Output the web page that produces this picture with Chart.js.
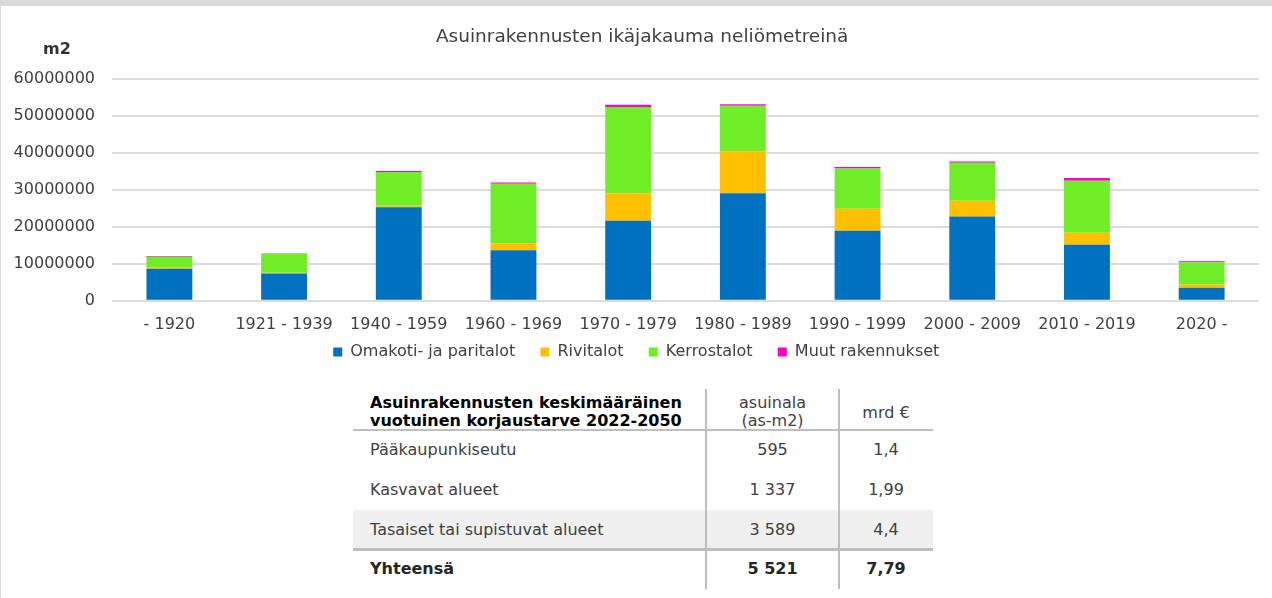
<!DOCTYPE html>
<html>
<head>
<meta charset="utf-8">
<script src="https://cdn.jsdelivr.net/npm/chart.js@4.4.1/dist/chart.umd.min.js"></script>
<style>
  html, body { margin: 0; padding: 0; background: #ffffff; }
  body { width: 1272px; height: 598px; position: relative; overflow: hidden; font-family: "DejaVu Sans", Verdana, sans-serif; }
  #topband { position: absolute; left: 0; top: 0; width: 1272px; height: 6px; background: #d9d9d9; }
  #leftline { position: absolute; left: 0; top: 6px; width: 1px; height: 592px; background: #d9d9d9; }
  #chartwrap { position: absolute; left: 0; top: 0; width: 1272px; height: 370px; }
  #unit { position: absolute; left: 37px; top: 39px; width: 40px; text-align: center; font-weight: bold; font-size: 16px; line-height: 20px; color: #333333; }
  .cell { position: absolute; display: flex; align-items: center; font-size: 16px; color: #404040; box-sizing: border-box; line-height: 18px; }
  .line { position: absolute; background: #bfbfbf; }
</style>
</head>
<body>
<div id="topband"></div>
<div id="leftline"></div>
<div id="chartwrap"><canvas id="c" width="1272" height="370"></canvas></div>
<div id="unit">m2</div>
<div id="table"></div>
<script>
// ---- chart data ----
const categories = ['- 1920', '1921 - 1939', '1940 - 1959', '1960 - 1969', '1970 - 1979', '1980 - 1989', '1990 - 1999', '2000 - 2009', '2010 - 2019', '2020 -'];
const omakotiJaParitalot = [8700000, 7400000, 25300000, 13700000, 21700000, 29100000, 19000000, 22800000, 15200000, 3500000];
const rivitalot = [400000, 200000, 450000, 1900000, 7400000, 11400000, 5900000, 4300000, 3200000, 900000];
const kerrostalot = [2800000, 5200000, 9100000, 16100000, 23400000, 12300000, 10900000, 10300000, 14100000, 6050000];
const muutRakennukset = [200000, 100000, 300000, 350000, 550000, 450000, 400000, 350000, 750000, 250000];
const seriesNames = ['Omakoti- ja paritalot', 'Rivitalot', 'Kerrostalot', 'Muut rakennukset'];
const yTicks = [0, 10000000, 20000000, 30000000, 40000000, 50000000, 60000000];
const chartTitle = 'Asuinrakennusten ikäjakauma neliömetreinä';
const unitLabel = 'm2';

// ---- table data ----
const tableHeaders = ['Asuinrakennusten keskimääräinen\nvuotuinen korjaustarve 2022-2050', 'asuinala\n(as-m2)', 'mrd €'];
const tableRegions = ['Pääkaupunkiseutu', 'Kasvavat alueet', 'Tasaiset tai supistuvat alueet', 'Yhteensä'];
const tableAsuinala = ['595', '1 337', '3 589', '5 521'];
const tableMrd = ['1,4', '1,99', '4,4', '7,79'];

document.getElementById('unit').textContent = unitLabel;

const colors = ['#0070C0', '#FFC000', '#6FEE27', '#FF00CC'];
const seriesData = [omakotiJaParitalot, rivitalot, kerrostalot, muutRakennukset];
const FONT = "'DejaVu Sans', Verdana, sans-serif";
const X_PAD = 14, Y_PAD = 17;

new Chart(document.getElementById('c'), {
  type: 'bar',
  data: {
    labels: categories,
    datasets: seriesData.map((d, i) => ({
      label: seriesNames[i],
      data: d,
      backgroundColor: colors[i],
      borderWidth: 0,
      stack: 's',
      barPercentage: 0.4,
      categoryPercentage: 1.0
    }))
  },
  options: {
    responsive: false,
    devicePixelRatio: 1,
    animation: false,
    layout: { padding: { left: 13.6, right: 13, top: 0, bottom: 0 } },
    plugins: {
      title: {
        display: true,
        text: '  ' + chartTitle,
        color: '#404040',
        font: { family: FONT, size: 18.5, weight: 'normal' },
        padding: { top: 26, bottom: 31 }
      },
      legend: {
        position: 'bottom',
        labels: {
          boxWidth: 9,
          boxHeight: 9,
          color: '#404040',
          padding: 10,
          font: { family: FONT, size: 16 },
          generateLabels: (chart) => {
            const items = Chart.defaults.plugins.legend.labels.generateLabels(chart);
            return items.map((it, i) => Object.assign(it, { text: i < items.length - 1 ? it.text + '   ' : it.text }));
          }
        }
      },
      tooltip: { enabled: false }
    },
    scales: {
      x: {
        stacked: true,
        grid: { display: false, drawTicks: false },
        border: { display: false },
        ticks: { color: '#404040', font: { family: FONT, size: 16 }, padding: X_PAD, maxRotation: 0, autoSkip: false },
        afterFit: (axis) => { axis.height -= X_PAD; }
      },
      y: {
        stacked: true,
        min: yTicks[0],
        max: yTicks[yTicks.length - 1],
        afterBuildTicks: (axis) => { axis.ticks = yTicks.map(v => ({ value: v })); },
        grid: { color: '#dcdcdc', lineWidth: 2, drawTicks: false },
        border: { display: false },
        ticks: { color: '#404040', font: { family: FONT, size: 16 }, padding: Y_PAD, callback: (v) => String(v) },
        afterFit: (axis) => { axis.width -= Y_PAD; }
      }
    }
  }
});

// ---- table ----
const tbl = document.getElementById('table');
const colEdges = [353, 706, 839, 933];
const rowEdges = [389, 430, 470, 510, 549, 589];
function box(cls, l, t, w, h, css) {
  const d = document.createElement('div');
  d.className = cls;
  Object.assign(d.style, { left: l + 'px', top: t + 'px', width: w + 'px', height: h + 'px' }, css || {});
  tbl.appendChild(d);
  return d;
}
box('line', colEdges[0], rowEdges[3], colEdges[3] - colEdges[0], rowEdges[4] - rowEdges[3], { background: '#f0f0f0' });
tableHeaders.forEach((txt, c) => {
  const d = box('cell', colEdges[c], rowEdges[0], colEdges[c + 1] - colEdges[c], rowEdges[1] - rowEdges[0], {
    alignItems: 'flex-end',
    justifyContent: c === 0 ? 'flex-start' : 'center',
    paddingLeft: c === 0 ? '17px' : '0',
    paddingBottom: c === 2 ? '8px' : '0',
    textAlign: c === 0 ? 'left' : 'center',
    fontWeight: c === 0 ? 'bold' : 'normal',
    color: c === 0 ? '#000000' : '#404040',
    whiteSpace: 'pre'
  });
  d.textContent = txt;
});
tableRegions.forEach((reg, r) => {
  const vals = [reg, tableAsuinala[r], tableMrd[r]];
  const isTotal = r === tableRegions.length - 1;
  vals.forEach((txt, c) => {
    const d = box('cell', colEdges[c], rowEdges[r + 1], colEdges[c + 1] - colEdges[c], rowEdges[r + 2] - rowEdges[r + 1], {
      justifyContent: c === 0 ? 'flex-start' : 'center',
      paddingLeft: c === 0 ? '17px' : '0',
      fontWeight: isTotal ? 'bold' : 'normal',
      color: isTotal ? '#262626' : '#404040'
    });
    d.textContent = txt;
  });
});
box('line', colEdges[0], rowEdges[1] - 1, colEdges[3] - colEdges[0], 2);
box('line', colEdges[0], rowEdges[4] - 1, colEdges[3] - colEdges[0], 3);
box('line', colEdges[1] - 1, rowEdges[0], 2, rowEdges[5] - rowEdges[0]);
box('line', colEdges[2] - 1, rowEdges[0], 2, rowEdges[5] - rowEdges[0]);
</script>
</body>
</html>
